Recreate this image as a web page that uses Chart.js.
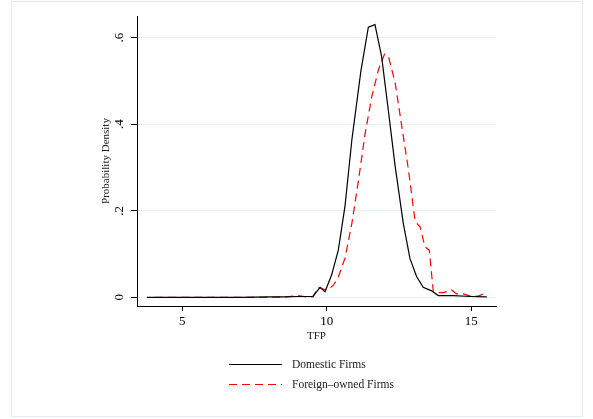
<!DOCTYPE html>
<html>
<head>
<meta charset="utf-8">
<script src="https://cdn.jsdelivr.net/npm/chart.js@4.4.1/dist/chart.umd.min.js"></script>
<style>
  html, body { margin: 0; padding: 0; background: #ffffff; }
  #wrap { width: 593px; height: 419px; position: relative; }
</style>
</head>
<body>
<div id="wrap"><canvas id="c" width="593" height="419"></canvas></div>
<script>
// ---- data ----
const tfpDomestic = [3.77, 5, 6, 7, 8, 8.5, 9, 9.52, 9.77, 9.94, 10.17, 10.4, 10.63, 10.87, 11.18, 11.44, 11.67, 11.9, 12.13, 12.37, 12.65, 12.88, 13.11, 13.34, 13.63, 13.86, 14.38, 15.0, 15.54];
const densityDomestic = [0, 0, 0, 0, 0.001, 0.001, 0.002, 0.002, 0.023, 0.013, 0.052, 0.109, 0.21, 0.364, 0.522, 0.624, 0.630, 0.556, 0.433, 0.302, 0.171, 0.09, 0.048, 0.023, 0.015, 0.004, 0.004, 0.002, 0.001];

const tfpForeign = [4.06, 5, 6, 7, 8, 8.6, 9.0, 9.3, 9.52, 9.71, 9.88, 10.05, 10.23, 10.4, 10.63, 10.87, 11.1, 11.33, 11.56, 11.79, 12.0, 12.14, 12.37, 12.6, 12.83, 13.06, 13.23, 13.4, 13.55, 13.69, 13.86, 14.03, 14.2, 14.32, 14.5, 14.73, 14.96, 15.25, 15.43];
const densityForeign = [0, 0, 0, 0, 0, 0.001, 0.004, 0.001, 0.001, 0.023, 0.019, 0.018, 0.028, 0.047, 0.09, 0.171, 0.271, 0.379, 0.464, 0.526, 0.562, 0.556, 0.495, 0.394, 0.294, 0.175, 0.163, 0.117, 0.109, 0.013, 0.011, 0.011, 0.014, 0.017, 0.008, 0.008, 0.003, 0.003, 0.008];

const seriesNames = ['Domestic Firms', 'Foreign\u2013owned Firms'];
const xTicks = [5, 10, 15];
const yTicks = [0, 0.2, 0.4, 0.6];
const yTickLabels = ['0', '.2', '.4', '.6'];
const xTitle = 'TFP';
const yTitle = 'Probability Density';

const SERIF = '"Liberation Serif", "DejaVu Serif", serif';

function toPoints(xs, ys) { return xs.map((x, i) => ({ x: x, y: ys[i] })); }

const framePlugin = {
  id: 'frame',
  beforeDraw(chart) {
    const ctx = chart.ctx;
    ctx.save();
    ctx.fillStyle = '#ffffff';
    ctx.fillRect(0, 0, chart.width, chart.height);
    ctx.strokeStyle = '#e4ecec';
    ctx.lineWidth = 1;
    ctx.strokeRect(11.5, 1.5, 571, 415);
    ctx.restore();
  }
};

const legendPlugin = {
  id: 'customLegend',
  afterDraw(chart) {
    const ctx = chart.ctx;
    const ds = chart.data.datasets;
    ctx.save();
    ctx.font = '11.5px ' + SERIF;
    ctx.textBaseline = 'middle';
    ctx.textAlign = 'left';
    const rows = [364, 384];
    ds.forEach((d, i) => {
      const y = rows[i] + 0.5;
      ctx.beginPath();
      ctx.strokeStyle = d.borderColor;
      ctx.lineWidth = d.borderWidth;
      ctx.setLineDash(d.borderDash || []);
      ctx.moveTo(229, y);
      ctx.lineTo(282, y);
      ctx.stroke();
      ctx.setLineDash([]);
      ctx.fillStyle = '#222222';
      ctx.fillText(d.label, 292, rows[i] + 1);
    });
    ctx.restore();
  }
};

new Chart(document.getElementById('c'), {
  type: 'scatter',
  data: {
    datasets: [
      {
        label: seriesNames[0],
        data: toPoints(tfpDomestic, densityDomestic),
        showLine: true,
        borderColor: '#000000',
        borderWidth: 1.2,
        pointRadius: 0,
        tension: 0,
        fill: false
      },
      {
        label: seriesNames[1],
        data: toPoints(tfpForeign, densityForeign),
        showLine: true,
        borderColor: '#ff0000',
        borderWidth: 1.2,
        borderDash: [8, 5],
        pointRadius: 0,
        tension: 0,
        fill: false
      }
    ]
  },
  options: {
    responsive: false,
    animation: false,
    devicePixelRatio: 1,
    layout: { padding: { left: 100, right: 97, top: 16, bottom: 73 } },
    plugins: {
      legend: { display: false },
      tooltip: { enabled: false }
    },
    scales: {
      x: {
        type: 'linear',
        min: 3.43,
        max: 15.86,
        afterFit(scale) { scale.height = 40; },
        afterBuildTicks(scale) { scale.ticks = xTicks.map(v => ({ value: v })); },
        border: { color: '#000000', width: 1 },
        grid: { drawOnChartArea: false, tickColor: '#000000', tickLength: 5, lineWidth: 1 },
        ticks: {
          color: '#000000',
          font: { family: SERIF, size: 13 },
          padding: 3,
          maxRotation: 0,
          callback: (v) => String(v)
        },
        title: {
          display: true,
          text: xTitle,
          color: '#222222',
          font: { family: SERIF, size: 11, lineHeight: 1.2 },
          padding: { top: 0, bottom: 3 }
        }
      },
      y: {
        type: 'linear',
        min: -0.02,
        max: 0.65,
        afterFit(scale) { scale.width = 37; },
        afterBuildTicks(scale) { scale.ticks = yTicks.map(v => ({ value: v })); },
        border: { color: '#000000', width: 1 },
        grid: { color: '#e8f0f0', lineWidth: 1, tickColor: '#000000', tickLength: 6 },
        ticks: {
          color: '#000000',
          font: { family: SERIF, size: 13 },
          padding: 7,
          minRotation: 90,
          maxRotation: 90,
          crossAlign: 'center',
          callback: (v) => {
            const i = yTicks.findIndex(t => Math.abs(t - v) < 1e-9);
            return i >= 0 ? yTickLabels[i] : '';
          }
        },
        title: {
          display: true,
          text: yTitle,
          color: '#222222',
          font: { family: SERIF, size: 11, lineHeight: 1.2 },
          padding: { top: 0, bottom: 0 }
        }
      }
    }
  },
  plugins: [framePlugin, legendPlugin]
});
</script>
</body>
</html>
